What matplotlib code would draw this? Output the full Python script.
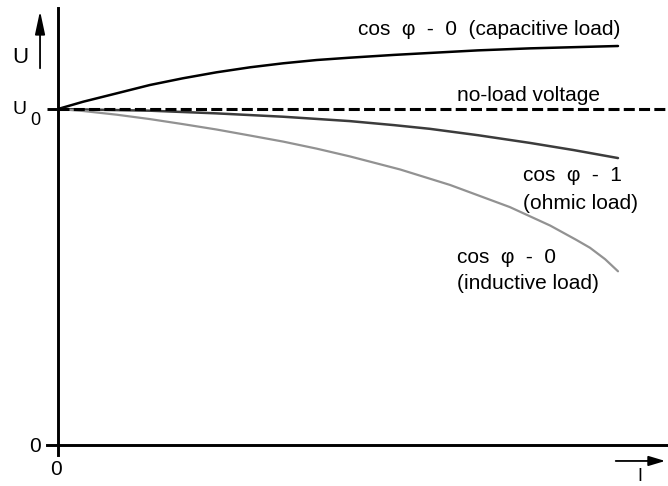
import numpy as np
import matplotlib.pyplot as plt

plt.rcParams['font.family'] = ['Liberation Sans', 'DejaVu Sans']

# relative current I (0 .. 1) and relative terminal voltage U/U0
U0 = 1.0
x_cap = [0, 0.045, 0.105, 0.164, 0.223, 0.283, 0.343, 0.402, 0.462, 0.521, 0.60, 0.664, 0.75, 0.843, 1.0]
u_cap = [1.0, 1.0217, 1.0467, 1.0714, 1.0914, 1.1092, 1.1241, 1.136, 1.1458, 1.1527, 1.161, 1.1668, 1.1745, 1.1805, 1.1875]

x_ohm = [0, 0.164, 0.283, 0.402, 0.521, 0.60, 0.664, 0.75, 0.843, 0.92, 1.0]
u_ohm = [1.0, 0.995, 0.987, 0.977, 0.964, 0.952, 0.941, 0.922, 0.899, 0.878, 0.854]

x_ind = [0, 0.045, 0.105, 0.164, 0.223, 0.283, 0.343, 0.402, 0.462, 0.521, 0.611, 0.70,
         0.807, 0.879, 0.925, 0.95, 0.977, 1.0]
u_ind = [1.0, 0.994, 0.983, 0.970, 0.955, 0.939, 0.921, 0.903, 0.882, 0.859, 0.820, 0.774,
         0.708, 0.653, 0.611, 0.587, 0.553, 0.517]

fig = plt.figure(figsize=(6.68, 4.86), dpi=100)
ax = fig.add_axes([0, 0, 1, 1])
ax.set_xlim(-0.1036, 1.0893)
ax.set_ylim(-0.1220, 1.3244)

# axes through the origin
for s in ['top', 'right']:
    ax.spines[s].set_visible(False)
ax.spines['left'].set_position(('data', 0))
ax.spines['bottom'].set_position(('data', 0))
ax.spines['left'].set_bounds(-0.03, 1.30)
ax.spines['bottom'].set_bounds(-0.02, 1.0893)
ax.spines['left'].set_linewidth(2.1)
ax.spines['bottom'].set_linewidth(2.1)
ax.set_xticks([])
ax.set_yticks([U0])
ax.set_yticklabels([])
ax.tick_params(axis='y', direction='out', length=8, width=2.1)

# curves
ax.plot(x_cap, u_cap, color='black', lw=1.8, solid_capstyle='round', solid_joinstyle='round')
ax.plot(x_ohm, u_ohm, color='#3c3c3c', lw=1.8, solid_capstyle='round', solid_joinstyle='round')
ax.plot(x_ind, u_ind, color='#929292', lw=1.6, solid_capstyle='round', solid_joinstyle='round')
ax.hlines(U0, 0, 1.0893, color='black', lw=2.2, linestyles=(0, (3.6, 1.4)))

# labels on the curves
fs = 15
ax.text(0.536, 1.237, 'cos  φ  -  0  (capacitive load)', fontsize=fs, va='center', ha='left')
ax.text(0.7125, 1.040, 'no-load voltage', fontsize=fs, va='center', ha='left')
ax.text(0.830, 0.801, 'cos  φ  -  1', fontsize=fs, va='center', ha='left')
ax.text(0.830, 0.718, '(ohmic load)', fontsize=fs, va='center', ha='left')
ax.text(0.7125, 0.558, 'cos  φ  -  0', fontsize=fs, va='center', ha='left')
ax.text(0.7125, 0.481, '(inductive load)', fontsize=fs, va='center', ha='left')

# axis labels
ax.text(-0.041, -0.003, '0', fontsize=15, va='center', ha='center')
ax.text(-0.004, -0.074, '0', fontsize=15, va='center', ha='center')
ax.text(-0.068, 1.0, 'U', fontsize=14, va='center', ha='center')
ax.text(-0.040, 0.966, '0', fontsize=13, va='center', ha='center')
ax.text(-0.068, 1.154, 'U', fontsize=16, va='center', ha='center')
ax.text(1.039, -0.095, 'I', fontsize=13, va='center', ha='center')

# direction arrows for U and I
ax.annotate('', xy=(-0.0321, 1.300), xytext=(-0.0321, 1.113),
            arrowprops=dict(arrowstyle='-|>,head_length=1.4,head_width=0.3',
                            color='black', lw=1.3))
ax.annotate('', xy=(1.0893, -0.0475), xytext=(0.991, -0.0475),
            arrowprops=dict(arrowstyle='-|>,head_length=1.0,head_width=0.3',
                            color='black', lw=1.3))

fig.savefig('out.png', dpi=100)
